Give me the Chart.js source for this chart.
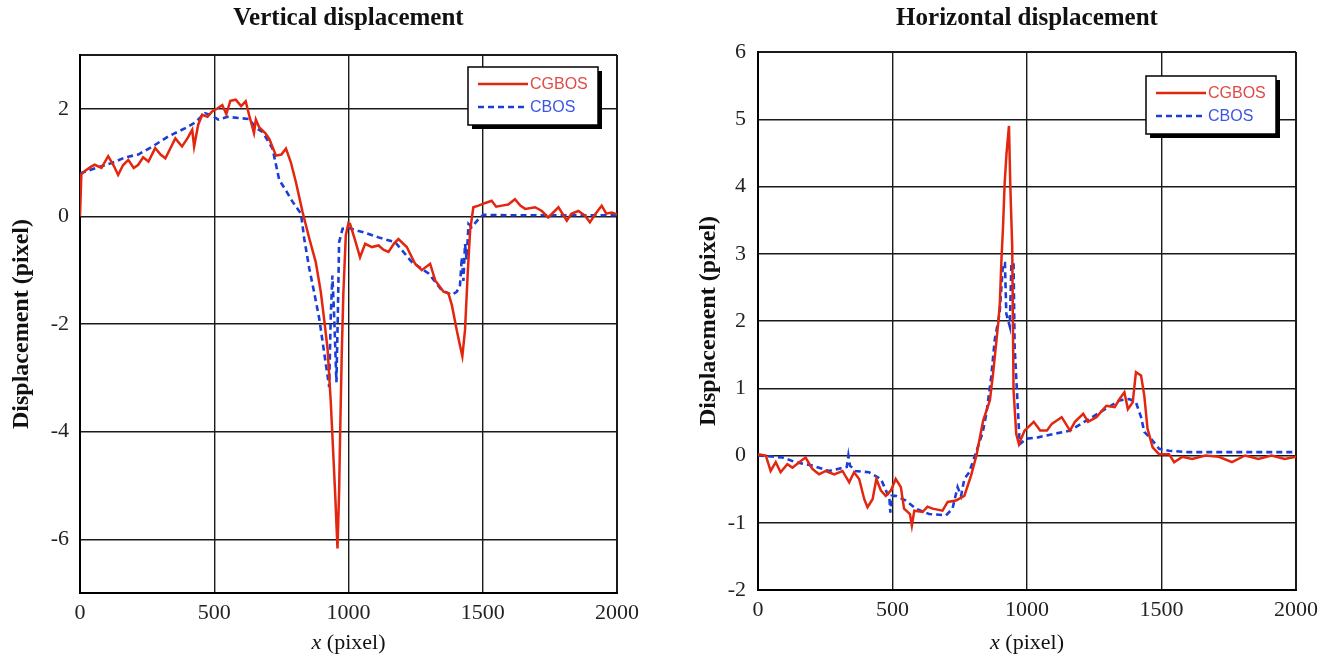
<!DOCTYPE html>
<html>
<head>
<meta charset="utf-8">
<script src="https://cdn.jsdelivr.net/npm/chart.js@4.4.1/dist/chart.umd.min.js"></script>
<style>
   body { margin: 0; background: #fff; width: 1335px; height: 662px; overflow: hidden; }
   .panel { position: absolute; top: 0; height: 662px; }
</style>
</head>
<body>
<div class="panel" style="left:0;width:667px"><canvas id="vertChart" width="667" height="662"></canvas></div>
<div class="panel" style="left:667px;width:668px"><canvas id="horzChart" width="668" height="662"></canvas></div>
<script>
// x ticks shared by both panels
var xTicks = [0, 500, 1000, 1500, 2000]

// vertical displacement, CGBOS (red, solid)
var vertRedX = [0, 5, 17, 40, 55, 80, 105, 125, 142, 160, 180, 200, 217, 235, 255, 280, 300, 318, 340, 355,
   380, 400, 418, 425, 440, 455, 475, 492, 510, 530, 545, 560, 580, 600, 617, 630, 648, 655, 667, 690,
   705, 730, 750, 767, 785, 804, 829, 854, 878, 897, 909, 922, 934, 940, 950, 959, 965, 969, 975, 981,
   990, 1000, 1006, 1025, 1043, 1062, 1087, 1112, 1130, 1149, 1170, 1186, 1217, 1248, 1273, 1304, 1323, 1354, 1372, 1385,
   1403, 1416, 1424, 1434, 1444, 1453, 1465, 1484, 1510, 1533, 1550, 1571, 1595, 1620, 1640, 1658, 1695, 1720, 1744, 1782,
   1813, 1830, 1856, 1880, 1899, 1920, 1943, 1960, 1980, 2000]
var vertRedY = [0, 0.78, 0.84, 0.92, 0.96, 0.9, 1.12, 0.95, 0.77, 0.95, 1.05, 0.9, 0.96, 1.1, 1.02, 1.27, 1.15, 1.08, 1.3, 1.45,
   1.3, 1.45, 1.61, 1.3, 1.7, 1.89, 1.85, 1.95, 2.0, 2.07, 1.9, 2.15, 2.17, 2.05, 2.14, 1.88, 1.55, 1.8, 1.66, 1.55,
   1.44, 1.13, 1.15, 1.26, 1.01, 0.64, 0.08, -0.41, -0.85, -1.41, -1.9, -2.46, -3.45, -4.07, -5.12, -6.17, -5.12, -4.0, -2.52, -1.41,
   -0.35, -0.12, -0.14, -0.45, -0.76, -0.51, -0.57, -0.54, -0.62, -0.66, -0.5, -0.42, -0.57, -0.88, -1.0, -0.88, -1.19, -1.4, -1.43, -1.65,
   -2.11, -2.42, -2.6, -2.11, -1.06, -0.26, 0.17, 0.2, 0.25, 0.29, 0.18, 0.2, 0.22, 0.32, 0.2, 0.14, 0.17, 0.1, -0.02, 0.17,
   -0.08, 0.05, 0.1, 0.02, -0.11, 0.05, 0.2, 0.05, 0.07, 0.04]

// vertical displacement, CBOS (blue, dashed)
var vertBlueX = [0, 60, 117, 170, 217, 270, 330, 392, 430, 465, 490, 515, 550, 590, 630, 656, 680, 717, 742, 767,
   792, 823, 835, 854, 872, 891, 909, 928, 934, 940, 947, 955, 960, 965, 978, 1002, 1052, 1112, 1174, 1236,
   1298, 1347, 1385, 1403, 1415, 1422, 1428, 1434, 1440, 1447, 1459, 1484, 1502, 1600, 1800, 2000]
var vertBlueY = [0.8, 0.9, 0.99, 1.1, 1.15, 1.3, 1.49, 1.64, 1.75, 1.92, 1.88, 1.8, 1.85, 1.83, 1.81, 1.64, 1.57, 1.26, 0.68, 0.48,
   0.27, 0.05, -0.41, -0.97, -1.41, -1.9, -2.52, -3.17, -1.84, -1.1, -1.9, -3.08, -1.9, -0.48, -0.23, -0.22, -0.29, -0.39, -0.48, -0.85,
   -1.06, -1.37, -1.46, -1.4, -1.3, -0.76, -1.2, -0.51, -0.8, -0.14, -0.2, -0.05, 0.03, 0.02, 0.02, 0.02]

// horizontal displacement, CGBOS (red, solid)
var horzRedX = [0, 29, 47, 66, 84, 109, 128, 153, 177, 202, 227, 252, 283, 314, 339, 357, 376, 395, 407, 426,
   440, 457, 475, 494, 512, 531, 543, 565, 572, 581, 612, 630, 649, 686, 705, 736, 767, 792, 812, 837,
   862, 874, 893, 899, 905, 911, 917, 924, 933, 938, 945, 950, 960, 970, 991, 1025, 1049, 1074, 1092, 1111,
   1129, 1160, 1178, 1209, 1227, 1258, 1295, 1326, 1344, 1362, 1375, 1393, 1405, 1424, 1436, 1448, 1467, 1491, 1528, 1547,
   1577, 1614, 1663, 1713, 1762, 1811, 1860, 1909, 1958, 2000]
var horzRedY = [0.02, 0, -0.23, -0.1, -0.25, -0.13, -0.18, -0.1, -0.03, -0.2, -0.28, -0.23, -0.28, -0.23, -0.4, -0.25, -0.35, -0.65, -0.77, -0.65,
   -0.35, -0.52, -0.6, -0.52, -0.35, -0.47, -0.79, -0.87, -1.04, -0.82, -0.84, -0.76, -0.79, -0.82, -0.69, -0.67, -0.6, -0.3, 0, 0.52,
   0.82, 1.22, 1.97, 2.26, 2.91, 3.41, 4.05, 4.5, 4.9, 4.0, 3.11, 0.97, 0.32, 0.17, 0.37, 0.5, 0.37, 0.37, 0.47, 0.52,
   0.57, 0.37, 0.5, 0.62, 0.5, 0.57, 0.74, 0.72, 0.84, 0.94, 0.69, 0.79, 1.24, 1.19, 0.89, 0.4, 0.12, 0.02, 0.02, -0.1,
   -0.02, -0.05, 0, -0.02, -0.1, 0, -0.05, 0, -0.05, -0.02]

// horizontal displacement, CBOS (blue, dashed)
var horzBlueX = [0, 91, 140, 202, 264, 330, 336, 342, 363, 413, 457, 481, 488, 492, 497, 512, 550, 587, 636, 699,
   723, 742, 755, 767, 785, 810, 835, 849, 867, 880, 898, 911, 918, 923, 936, 942, 950, 954, 967, 973,
   998, 1041, 1098, 1160, 1221, 1283, 1344, 1381, 1405, 1424, 1436, 1461, 1491, 1528, 1600, 2000]
var horzBlueY = [0, -0.03, -0.1, -0.15, -0.23, -0.17, 0, -0.15, -0.23, -0.25, -0.35, -0.57, -0.6, -0.85, -0.6, -0.6, -0.67, -0.79, -0.87, -0.89,
   -0.79, -0.47, -0.6, -0.35, -0.25, 0.04, 0.34, 0.62, 1.17, 1.72, 2.11, 2.86, 2.86, 2.11, 1.92, 2.86, 2.86, 1.62, 0.62, 0.17,
   0.25, 0.27, 0.32, 0.37, 0.52, 0.67, 0.82, 0.84, 0.79, 0.57, 0.35, 0.25, 0.1, 0.07, 0.05, 0.05]

var vertYTicks = [-6, -4, -2, 0, 2]
var horzYTicks = [-2, -1, 0, 1, 2, 3, 4, 5, 6]

var redColor = "#e3260f"
var blueColor = "#1b3fd6"
var serif = "'Liberation Serif', 'Times New Roman', serif"

Chart.defaults.font.family = serif
Chart.defaults.color = "#222"

function toPoints(xs, ys) {
   return xs.map(function (x, i) {
      return { x: x, y: ys[i] }
   })
}

// titles centred over the plot box, x title with italic "x"
var panelText = {
   id: "panelText",
   afterDraw: function (chart, args, opts) {
      var ctx = chart.ctx
      var a = chart.chartArea
      var cx = (a.left + a.right) / 2
      ctx.save()
      ctx.fillStyle = "#111"
      ctx.textBaseline = "middle"
      ctx.textAlign = "center"
      ctx.font = "bold 25px " + serif
      ctx.fillText(opts.title, cx, 19)

      ctx.textAlign = "left"
      ctx.font = "italic 22px " + serif
      var w1 = ctx.measureText("x").width
      ctx.font = "22px " + serif
      var w2 = ctx.measureText(" (pixel)").width
      var x0 = cx - (w1 + w2) / 2
      ctx.font = "italic 22px " + serif
      ctx.fillText("x", x0, chart.height - 19)
      ctx.font = "22px " + serif
      ctx.fillText(" (pixel)", x0 + w1, chart.height - 19)
      ctx.restore()
   },
}

// boxed legend with drop shadow, top right inside the plot
var boxLegend = {
   id: "boxLegend",
   afterDraw: function (chart, args, opts) {
      var ctx = chart.ctx
      var a = chart.chartArea
      var w = 130,
         h = 58
      var x = a.right - opts.right - w
      var y = a.top + opts.top
      ctx.save()
      ctx.fillStyle = "#000"
      ctx.fillRect(x + 4, y + 4, w, h)
      ctx.fillStyle = "#fff"
      ctx.fillRect(x, y, w, h)
      ctx.lineWidth = 1.5
      ctx.strokeStyle = "#000"
      ctx.strokeRect(x, y, w, h)
      ctx.font = "16px 'Liberation Sans', Arial, sans-serif"
      ctx.textBaseline = "middle"
      chart.data.datasets.forEach(function (ds, i) {
         var ly = y + 17 + i * 23
         ctx.beginPath()
         ctx.setLineDash(ds.borderDash || [])
         ctx.strokeStyle = ds.borderColor
         ctx.lineWidth = ds.borderWidth
         ctx.moveTo(x + 10, ly)
         ctx.lineTo(x + 60, ly)
         ctx.stroke()
         ctx.fillStyle = ds.legendText
         ctx.fillText(ds.label, x + 62, ly + 1)
      })
      ctx.restore()
   },
}

function makeChart(id, cfg) {
   var edge = function (min, max) {
      return function (c) {
         return c.tick && (c.tick.value === min || c.tick.value === max) ? 2 : 1.4
      }
   }
   return new Chart(document.getElementById(id), {
      type: "line",
      data: {
         datasets: [
            {
               label: "CGBOS",
               data: toPoints(cfg.redX, cfg.redY),
               borderColor: redColor,
               legendText: "#e04a45",
               borderWidth: 2.5,
               pointRadius: 0,
               tension: 0,
            },
            {
               label: "CBOS",
               data: toPoints(cfg.blueX, cfg.blueY),
               borderColor: blueColor,
               legendText: "#3d55e0",
               borderWidth: 2.6,
               borderDash: [6, 4],
               pointRadius: 0,
               tension: 0,
            },
         ],
      },
      options: {
         responsive: false,
         animation: false,
         layout: {
            padding: { top: cfg.top, right: cfg.right, left: 0, bottom: 0 },
         },
         plugins: {
            legend: { display: false },
            tooltip: { enabled: false },
            panelText: { title: cfg.title },
            boxLegend: { right: cfg.legRight, top: cfg.legTop },
         },
         scales: {
            x: {
               type: "linear",
               min: 0,
               max: 2000,
               afterBuildTicks: function (s) {
                  s.ticks = xTicks.map(function (v) {
                     return { value: v }
                  })
               },
               afterFit: function (s) {
                  s.height = cfg.xHeight
               },
               grid: { color: "#1a1a1a", lineWidth: edge(0, 2000), drawTicks: false },
               border: { color: "#000", width: 2 },
               ticks: {
                  padding: 7,
                  font: { size: 22 },
                  maxRotation: 0,
                  callback: function (v) {
                     return String(v)
                  },
               },
            },
            y: {
               min: cfg.yMin,
               max: cfg.yMax,
               afterBuildTicks: function (s) {
                  var vals = [cfg.yMin].concat(cfg.yTicks, [cfg.yMax])
                  vals = vals.filter(function (v, i) {
                     return vals.indexOf(v) === i
                  })
                  s.ticks = vals.map(function (v) {
                     return { value: v }
                  })
               },
               afterFit: function (s) {
                  s.width = cfg.yWidth
               },
               grid: { color: "#1a1a1a", lineWidth: edge(cfg.yMin, cfg.yMax), drawTicks: false },
               border: { color: "#000", width: 2 },
               ticks: {
                  padding: cfg.yPad,
                  font: { size: 22 },
                  callback: function (v) {
                     return cfg.yTicks.indexOf(v) >= 0 ? String(v) : ""
                  },
               },
               title: {
                  display: true,
                  text: "Displacement (pixel)",
                  font: { size: 24, weight: "bold" },
                  color: "#111",
                  padding: { top: cfg.yTitlePad, bottom: 0 },
               },
            },
         },
      },
      plugins: [panelText, boxLegend],
   })
}

makeChart("vertChart", {
   title: "Vertical displacement",
   redX: vertRedX,
   redY: vertRedY,
   blueX: vertBlueX,
   blueY: vertBlueY,
   yMin: -7,
   yMax: 3,
   yTicks: vertYTicks,
   top: 55,
   right: 50,
   yWidth: 80,
   xHeight: 69,
   yPad: 11,
   yTitlePad: 7,
   legRight: 19,
   legTop: 12,
})

makeChart("horzChart", {
   title: "Horizontal displacement",
   redX: horzRedX,
   redY: horzRedY,
   blueX: horzBlueX,
   blueY: horzBlueY,
   yMin: -2,
   yMax: 6,
   yTicks: horzYTicks,
   top: 52,
   right: 39,
   yWidth: 91,
   xHeight: 72,
   yPad: 12,
   yTitlePad: 27,
   legRight: 20,
   legTop: 24,
})
</script>
</body>
</html>
